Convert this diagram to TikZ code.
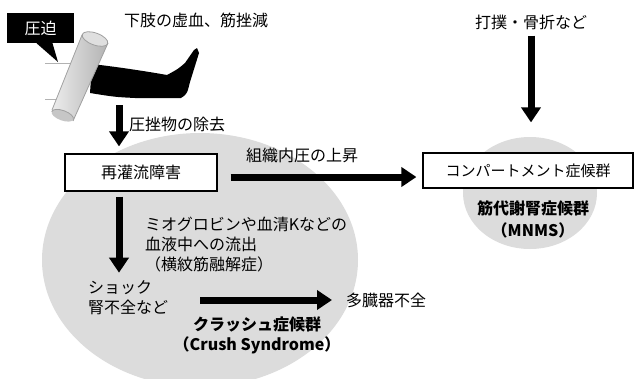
\documentclass[tikz,border=0pt]{standalone}
\usepackage{fontspec}
\setmainfont{Noto Sans CJK JP}
\usepackage{tikz}
\usetikzlibrary{arrows.meta}
\usetikzlibrary{positioning}
\definecolor{bggray}{RGB}{220,220,220}

\begin{document}
\begin{tikzpicture}[x=1pt,y=-1pt,>={Triangle[length=15pt,width=19pt]},font=\fontsize{16}{20}\selectfont,
  box/.style={draw,fill=white,line width=1.2pt},
  fat/.style={->,line width=7pt},
  txt/.style={inner sep=0pt,align=left}]
\useasboundingbox (0,0) rectangle (635,378);
% grey areas behind the two syndromes
\fill[bggray] (200,260) ellipse (158 and 127);
\fill[bggray] (530,193) ellipse (67 and 56);
% leg under the weight
\draw[gray!60,line width=1pt] (45,63) -- (80,63) (45,99) -- (70,99);
\fill[black] (92,63) -- (100,65) .. controls (125,68) and (150,72) .. (167,75) .. controls (178,69) .. (185,63)
  -- (194,50) -- (197,48) -- (199,53) .. controls (195,68) .. (190,82) .. controls (187,94) .. (181,98)
  -- (135,98) .. controls (115,97) .. (90,93) -- cycle;
\shade[left color=gray!15,right color=gray!60] (82,35) -- (52,110) -- (73,121) -- (108,43) -- cycle;
\fill[gray!45,rotate around={-20:(62.5,115.5)}] (62.5,115.5) ellipse (11.5 and 5);
\draw[gray!75,line width=0.8pt] (82,35) -- (52,110) (73,121) -- (108,43);
\draw[gray!75,line width=0.8pt,rotate around={-20:(62.5,115.5)}] (51,115.5) arc (180:360:11.5 and 5);
\draw[gray!75,fill=gray!25,line width=0.8pt,rotate around={-20:(95,39)}] (95,39) ellipse (13.5 and 6);

\path node[fill=black,text=white,minimum width=67pt,minimum height=30pt,inner sep=0pt] (press) at (40.5,28) {圧迫};
\fill[black] ([xshift=-4pt]press.south) -- (58,62) -- ([xshift=12pt]press.south) -- cycle;
\path node[txt,anchor=west] (limb) at (124,20) {下肢の虚血、筋挫減};
\path node[txt,anchor=west] (removal) at (129,124) {圧挫物の除去};
\coordinate (cut) at (119,105);

\path node[box,minimum width=152pt,minimum height=37pt] (reper) at (141,172.5) {再灌流障害\hspace{14pt}};
\path node[box,minimum width=210pt,minimum height=35pt,font=\fontsize{15}{18}\selectfont] (comp) at (528,170.5) {コンパートメント症候群};
\path node[txt,anchor=west] (pressure) at (246,155) {組織内圧の上昇};
\path node[txt] (blow) at (531,22) {打撲・骨折など};
\path node[txt,align=center,font=\bfseries\fontsize{16}{22}\selectfont] (mnms) at (533,219) {筋代謝腎症候群\\（MNMS）};

\path node[txt,anchor=west] (myo) at (145,245) {ミオグロビンや血清Kなどの\\血液中への流出\\（横紋筋融解症）};
\path node[txt,anchor=west] (shock) at (88,298) {ショック\\腎不全など};
\path node[txt,anchor=west] (organ) at (346,300) {多臓器不全};
\path node[txt,align=center,font=\bfseries\fontsize{16}{20}\selectfont] (crush) at (257,335) {クラッシュ症候群\\（Crush Syndrome）};

\coordinate (pr) at ([yshift=-4.5pt]reper.east);
\coordinate (sh) at ([yshift=-2pt]shock.east);
\path[fat] (cut) edge[shorten >=7pt] (cut |- reper.north);
\path[fat] (cut |- reper.south) edge[shorten <=5pt,shorten >=8pt] (cut |- shock.north);
\path[fat] (pr) edge[shorten <=13pt,shorten >=6pt] (pr -| comp.west);
\path[fat] (blow.south) edge[shorten <=6pt,shorten >=30pt] (blow.south |- comp.north);
\path[fat] (sh) edge[shorten <=32pt,shorten >=14pt] (sh -| organ.west);
\end{tikzpicture}
\end{document}
